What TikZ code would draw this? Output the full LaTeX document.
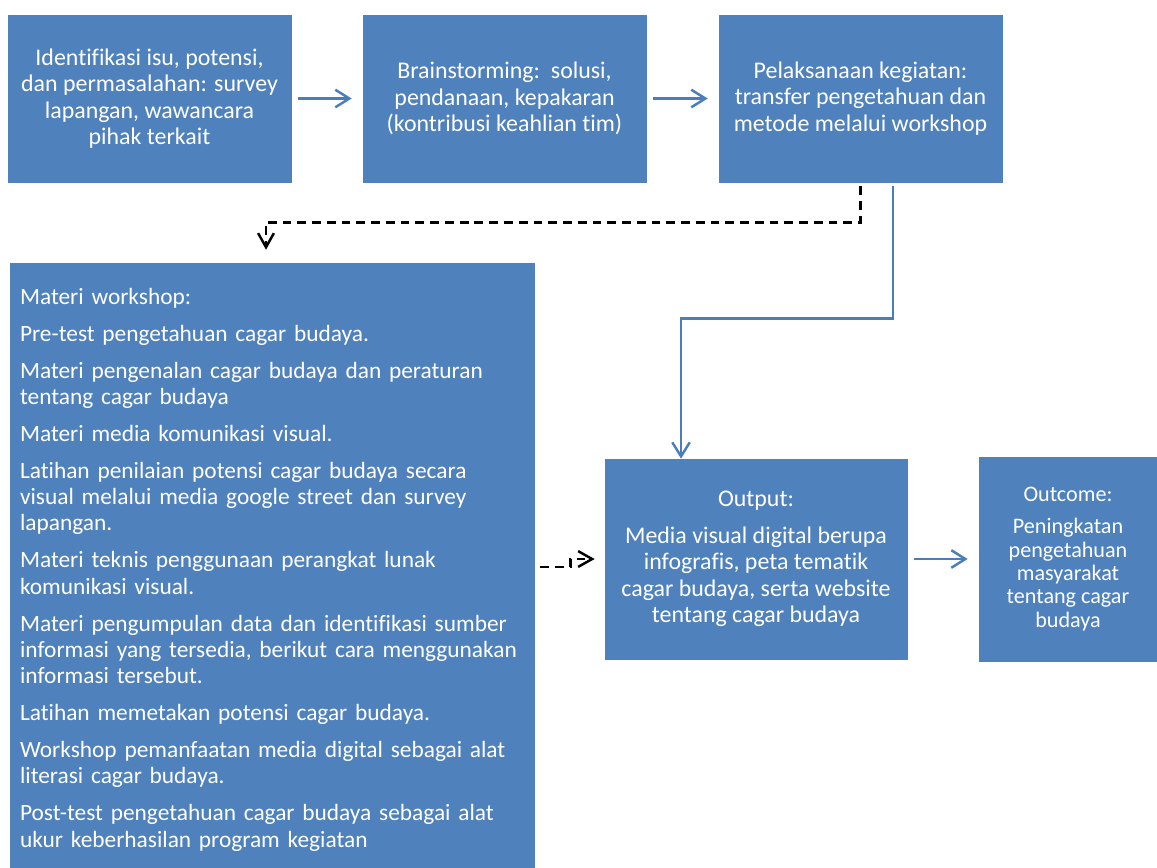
\documentclass[tikz,border=0pt]{standalone}
\usepackage{fontspec}
\setmainfont{Carlito}[Ligatures=NoCommon]
\usetikzlibrary{arrows.meta}
\definecolor{boxblue}{HTML}{4F81BD}
\definecolor{lineblue}{HTML}{4A7EBB}
\hyphenpenalty=10000

\begin{document}
\begin{tikzpicture}[x=0.02cm, y=-0.02cm,
	box/.style={fill=boxblue, draw=boxblue, text=white, inner sep=0pt, align=center, font=\fontsize{13.6}{15}\selectfont},
	flow/.style={draw=lineblue, line width=1.4pt, -{Straight Barb[length=8pt,width=10pt]}},
	dflow/.style={draw=black, line width=1.4pt, dash pattern=on 5pt off 3.4pt, -{Straight Barb[length=8pt,width=9pt]}}]
			%%%%% START %%%%%
			\useasboundingbox (0, 0) rectangle (1157, 867);
			
			\node[box, minimum width=5.66cm, minimum height=3.34cm] (idtf) at (149.5, 98.5) {Identifikasi isu, potensi,\\ dan permasalahan: survey\\ lapangan, wawancara\\ pihak terkait};
			\node[box, minimum width=5.66cm, minimum height=3.34cm] (brain) at (504.5, 98.5) {Brainstorming:\ \ solusi,\\ pendanaan, kepakaran\\ (kontribusi keahlian tim)};
			\node[box, minimum width=5.66cm, minimum height=3.34cm] (pel) at (860.5, 98.5) {Pelaksanaan kegiatan:\\ transfer pengetahuan dan\\ metode melalui workshop};
			
			\node[box, minimum width=10.48cm, minimum height=12.08cm, inner xsep=0.2cm, text width=10.08cm, align=left, font=\fontsize{13.3}{15}\selectfont] (mat) at (272, 565) {\rule{0pt}{14.5pt}Materi workshop:\\[6pt]
				Pre-test pengetahuan cagar budaya.\\[6pt]
				Materi pengenalan cagar budaya dan peraturan\\ tentang cagar budaya\\[6pt]
				Materi media komunikasi visual.\\[6pt]
				Latihan penilaian potensi cagar budaya secara\\ visual melalui media google street dan survey\\ lapangan.\\[6pt]
				Materi teknis penggunaan perangkat lunak\\ komunikasi visual.\\[6pt]
				Materi pengumpulan data dan identifikasi sumber\\ informasi yang tersedia, berikut cara menggunakan\\ informasi tersebut.\\[6pt]
				Latihan memetakan potensi cagar budaya.\\[6pt]
				Workshop pemanfaatan media digital sebagai alat\\ literasi cagar budaya.\\[6pt]
				Post-test pengetahuan cagar budaya sebagai alat\\ ukur keberhasilan program kegiatan};
			
			\node[box, minimum width=6.04cm, minimum height=4cm] (out) at (756, 559) {Output:\\[6pt] Media visual digital berupa\\ infografis, peta tematik\\ cagar budaya, serta website\\ tentang cagar budaya};
			\node[box, minimum width=3.56cm, minimum height=4.08cm, font=\fontsize{12.6}{13.3}\selectfont] (outc) at (1068, 559) {Outcome:\\[5pt] Peningkatan\\ pengetahuan\\ masyarakat\\ tentang cagar\\ budaya};
			
			\draw[flow, shorten <=0.14cm, shorten >=0.22cm] (idtf) -- (brain);
			\draw[flow, shorten <=0.14cm, shorten >=0.22cm] (brain) -- (pel);
			\draw[dflow, shorten <=0.08cm, shorten >=0.26cm] (pel.south) -- ++(0, 40) -| ([xshift=-0.12cm]mat.north);
			\draw[flow, shorten <=0.08cm] ([xshift=0.65cm]pel.south) -- ++(0, 136) -| ([xshift=-1.5cm]out.north);
			\draw[dflow, shorten <=0.12cm, shorten >=0.2cm] ([yshift=-0.04cm]mat.east) -- ++(36, 0) |- (out.west);
			\draw[flow, shorten <=0.14cm, shorten >=0.22cm] (out) -- (outc);
			%%%%% END %%%%%
\end{tikzpicture}
\end{document}
